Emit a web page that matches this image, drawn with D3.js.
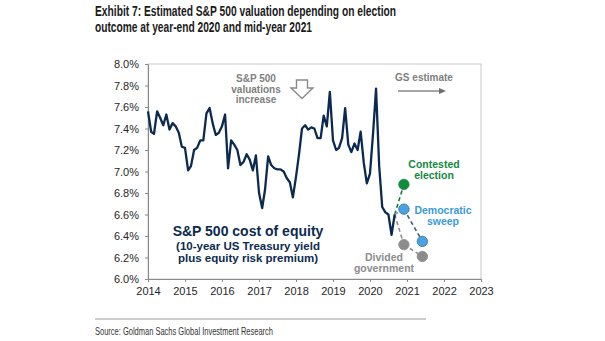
<!DOCTYPE html>
<html>
<head>
<meta charset="utf-8">
<script src="https://cdn.jsdelivr.net/npm/d3@7"></script>
<style>
  body { margin: 0; background: #fff; }
  svg { display: block; }
</style>
</head>
<body>
<svg id="chart" width="605" height="341"></svg>
<script>
// monthly cost of equity, Jan 2014 - Sep 2020
const startMonth = "2014-01";
const costOfEquity = [
  7.56, 7.37, 7.35, 7.56, 7.50, 7.43, 7.53, 7.39, 7.45, 7.42, 7.36, 7.23,
  7.22, 7.01, 7.05, 7.20, 7.22, 7.29, 7.29, 7.54, 7.59, 7.45, 7.34, 7.36,
  7.42, 7.53, 7.03, 7.29, 7.25, 7.20, 7.06, 7.09, 7.16, 7.11, 7.01, 7.15,
  6.80, 6.66, 6.83, 7.14, 7.06, 7.03, 7.02, 7.02, 7.00, 6.94, 6.90, 6.76,
  6.95, 7.17, 7.40, 7.43, 7.39, 7.41, 7.40, 7.31, 7.31, 7.52, 7.42, 7.74,
  7.29, 7.20, 7.22, 7.31, 7.59, 7.25, 7.18, 7.26, 7.20, 7.37, 7.08, 6.89,
  6.98, 7.36, 7.77, 7.05, 6.67, 6.62, 6.60, 6.41, 6.60
];

const scenarioDates = ["2020-12", "2021-06"];
const scenarios = [
  { name: "Contested election", values: [6.88, null] },
  { name: "Democratic sweep", values: [6.65, 6.35] },
  { name: "Divided government", values: [6.32, 6.21] }
];

const yTicks = [6.0, 6.2, 6.4, 6.6, 6.8, 7.0, 7.2, 7.4, 7.6, 7.8, 8.0];
const xTickYears = [2014, 2015, 2016, 2017, 2018, 2019, 2020, 2021, 2022, 2023];

const svg = d3.select("#chart");
const parseMonth = d3.timeParse("%Y-%m");
const t0 = parseMonth(startMonth);

const series = costOfEquity.map((v, i) => ({ date: d3.timeMonth.offset(t0, i), value: v }));
const last = series[series.length - 1];

const margin = { left: 148, right: 124, top: 64, bottom: 62 };
const x = d3.scaleTime()
  .domain([new Date(2014, 0, 1), new Date(2023, 0, 1)])
  .range([margin.left, 605 - margin.right]);
const y = d3.scaleLinear()
  .domain([6, 8])
  .range([341 - margin.bottom, margin.top]);

const axisFont = "'Liberation Sans', Arial, sans-serif";

// title (condensed look via textLength)
function squeezed(txt, x0, y0, len, font, color) {
  svg.append("text")
    .attr("x", x0).attr("y", y0)
    .attr("textLength", len)
    .attr("lengthAdjust", "spacingAndGlyphs")
    .style("font", font)
    .attr("fill", color)
    .text(txt);
}
squeezed("Exhibit 7: Estimated S&P 500 valuation depending on election", 95, 15.5, 301, "bold 14px " + axisFont, "#1a1a1a");
squeezed("outcome at year-end 2020 and mid-year 2021", 95, 32, 217, "bold 14px " + axisFont, "#1a1a1a");

// frame
svg.append("rect")
  .attr("x", x.range()[0]).attr("y", y.range()[1])
  .attr("width", x.range()[1] - x.range()[0])
  .attr("height", y.range()[0] - y.range()[1])
  .attr("fill", "none")
  .attr("stroke", "#c8c8c8");

// axes
const xAxis = svg.append("g")
  .attr("transform", `translate(0,${y.range()[0]})`)
  .call(d3.axisBottom(x)
    .tickValues(xTickYears.map(yr => new Date(yr, 0, 1)))
    .tickFormat(d3.timeFormat("%Y"))
    .tickSize(3).tickPadding(5));
const yAxis = svg.append("g")
  .attr("transform", `translate(${x.range()[0]},0)`)
  .call(d3.axisLeft(y)
    .tickValues(yTicks)
    .tickFormat(d => d.toFixed(1) + "%")
    .tickSize(3).tickPadding(6));

[xAxis, yAxis].forEach(g => {
  g.select(".domain").attr("stroke", "#8a8a8a");
  g.selectAll(".tick line").attr("stroke", "#8a8a8a");
  g.selectAll(".tick text")
    .style("font", "11px " + axisFont)
    .attr("fill", "#262626");
});

// scenario dashed lines
const sx = d => x(parseMonth(d));
const scenColors = {
  "Contested election": { dot: "#128a3e", line: "#0f7a37" },
  "Democratic sweep": { dot: "#4aa3e0", line: "#3b5f78" },
  "Divided government": { dot: "#8c8c8c", line: "#8c8c8c" }
};

scenarios.forEach(s => {
  const pts = [{ date: last.date, value: last.value }];
  s.values.forEach((v, i) => { if (v != null) pts.push({ date: parseMonth(scenarioDates[i]), value: v }); });
  const c = scenColors[s.name];
  svg.append("path")
    .attr("fill", "none")
    .attr("stroke", s.name === "Democratic sweep" ? "#8c9eab" : c.line)
    .attr("stroke-width", 1.6)
    .attr("stroke-dasharray", "4,3")
    .attr("d", d3.line().x(d => x(d.date)).y(d => y(d.value))(pts.slice(0, 2)));
  if (pts.length > 2) {
    svg.append("path")
      .attr("fill", "none")
      .attr("stroke", c.line)
      .attr("stroke-width", 1.6)
      .attr("stroke-dasharray", "4,3")
      .attr("d", d3.line().x(d => x(d.date)).y(d => y(d.value))(pts.slice(1)));
  }
});

// main line
svg.append("path")
  .datum(series)
  .attr("fill", "none")
  .attr("stroke", "#0c2a50")
  .attr("stroke-width", 2.3)
  .attr("stroke-linejoin", "round")
  .attr("d", d3.line().x(d => x(d.date)).y(d => y(d.value)));

// scenario dots
scenarios.forEach(s => {
  const c = scenColors[s.name];
  s.values.forEach((v, i) => {
    if (v == null) return;
    svg.append("circle")
      .attr("cx", sx(scenarioDates[i]))
      .attr("cy", y(v))
      .attr("r", 5.2)
      .attr("fill", c.dot)
      .attr("stroke", s.name === "Democratic sweep" ? "#2f6f9e" : c.dot)
      .attr("stroke-width", 0.8);
  });
});

// annotations, one text element per line
function label(lines, cx, y0, dy, color, font) {
  lines.forEach((l, i) => {
    svg.append("text")
      .attr("text-anchor", "middle")
      .attr("fill", color)
      .style("font", font)
      .attr("x", cx).attr("y", y0 + i * dy)
      .text(l);
  });
}

label(["S&P 500", "valuations", "increase"], 256, 82, 10.5, "#808080", "bold 10px " + axisFont);
label(["GS estimate"], 424, 81, 0, "#808080", "bold 10px " + axisFont);
label(["Contested", "election"], 434, 168, 11, "#128a3e", "bold 10.5px " + axisFont);
label(["Democratic", "sweep"], 443, 214, 11, "#3a9ad9", "bold 10.5px " + axisFont);
label(["Divided", "government"], 384, 261, 11, "#8c8c8c", "bold 10.5px " + axisFont);

svg.append("text")
  .attr("x", 248).attr("y", 236)
  .attr("text-anchor", "middle")
  .attr("fill", "#0c2a50")
  .style("font", "bold 14px " + axisFont)
  .text("S&P 500 cost of equity");
label(["(10-year US Treasury yield", "plus equity risk premium)"], 248, 249.5, 12.5, "#0c2a50", "bold 11.5px " + axisFont);

// hollow down arrow
svg.append("path")
  .attr("d", "M296.5,80 L307.5,80 L307.5,88 L313,88 L302,98.5 L291,88 L296.5,88 Z")
  .attr("fill", "#fff")
  .attr("stroke", "#8a8a8a")
  .attr("stroke-width", 1.4);

// GS estimate arrow
svg.append("line")
  .attr("x1", 398).attr("x2", 441)
  .attr("y1", 91).attr("y2", 91)
  .attr("stroke", "#8a8a8a")
  .attr("stroke-width", 1.3);
svg.append("path")
  .attr("d", "M439,88 L446,91 L439,94 Z")
  .attr("fill", "#6e6e6e");

// source
svg.append("line")
  .attr("x1", 95).attr("x2", 426)
  .attr("y1", 319).attr("y2", 319)
  .attr("stroke", "#9a9a9a")
  .attr("stroke-width", 1);
squeezed("Source: Goldman Sachs Global Investment Research", 95, 335, 178, "10.5px " + axisFont, "#333");
</script>
</body>
</html>
